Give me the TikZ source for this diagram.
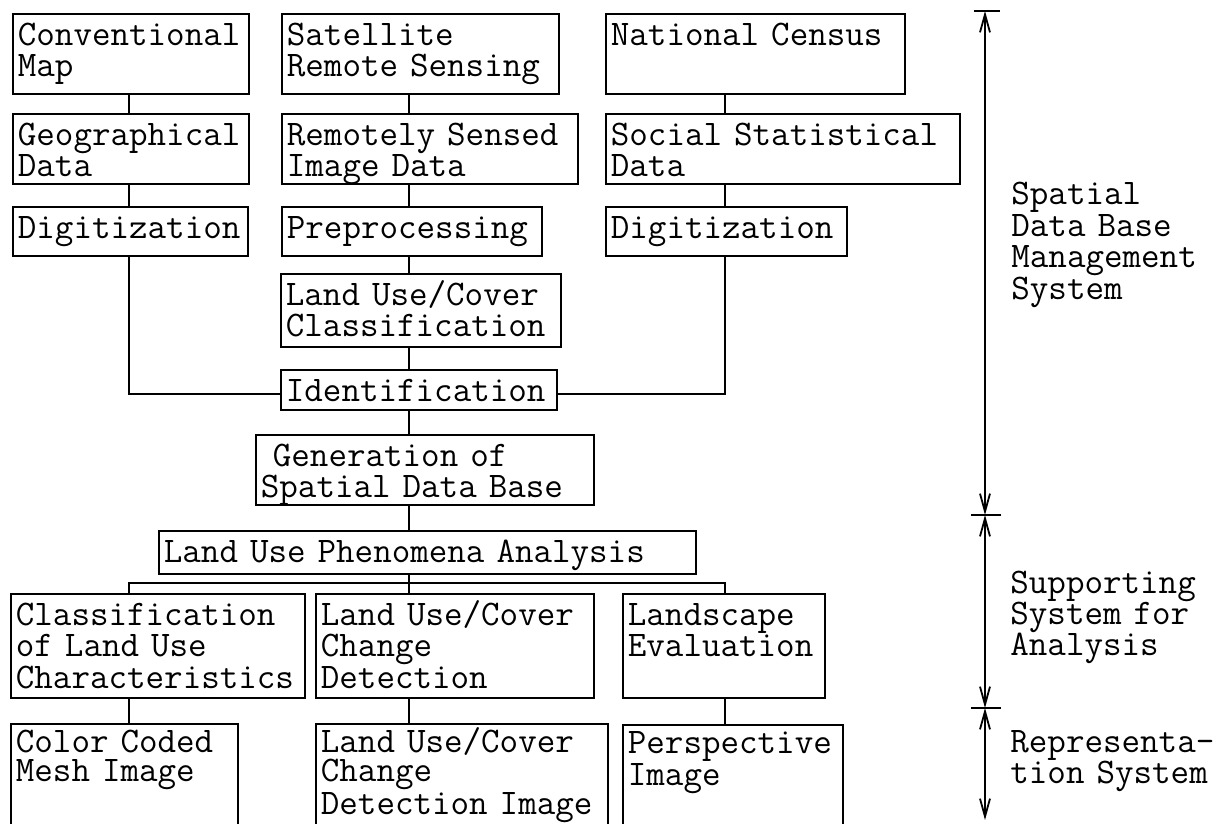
\documentclass[tikz,border=0pt]{standalone}
\usepackage{fontspec}
\usetikzlibrary{arrows.meta}
\newcommand\diafont{\ttfamily\addfontfeatures{FakeBold=0.6}\fontsize{18}{15.75}\selectfont\hyphenpenalty=10000\exhyphenpenalty=10000}
\newcommand\diafonttight{\ttfamily\addfontfeatures{FakeBold=0.6}\fontsize{18}{14.5}\selectfont\hyphenpenalty=10000\exhyphenpenalty=10000}
\tikzset{
  box/.style={draw, line width=0.9pt, inner xsep=2.5pt, inner ysep=0pt,
    align=left, text height=15.75pt, font=\diafont},
  tightbox/.style={text height=14.5pt, font=\diafonttight},
  conn/.style={line width=0.9pt},
  dimline/.style={line width=0.9pt, {Straight Barb[length=9pt,width=5pt]}-{Straight Barb[length=9pt,width=5pt]}},
  tickline/.style={line width=0.9pt},
  sidelabel/.style={inner sep=0pt, align=left, text width=120pt, anchor=base west,
    font=\diafont}
}
% \boxnode[extra style]{name}{left}{top}{right}{bottom}{text}, all in reference pixels
\newcommand\boxnode[7][]{%
  \pgfmathsetmacro\bxw{(#5-#3)*0.5-5}%
  \pgfmathsetmacro\bxd{(#6-#4)*0.5-15.75}%
  \node[box, #1, text width=\bxw pt, text depth=\bxd pt, anchor=north west] (#2) at (#3,#4) {#7};%
}
\begin{document}
\begin{tikzpicture}[x=0.5pt,y=-0.5pt]
\useasboundingbox (0,0) rectangle (1223,824);
\fill[white] (0,0) rectangle (1223,824);
\clip (0,0) rectangle (1223,824);

% connector columns
\coordinate (cL) at (129,0);
\coordinate (cM) at (409,0);
\coordinate (cR) at (725,0);
\coordinate (barY) at (0,583);

% row 1
\boxnode{cmap}{12}{13}{248}{93}{Conventional\\Map}
\boxnode{sat}{281}{13}{558}{93}{Satellite\\Remote Sensing}
\boxnode{census}{605}{13}{904}{93}{National Census}
% row 2
\boxnode{geo}{12}{113}{248}{183}{Geographical\\Data}
\boxnode{rsid}{281}{113}{577}{183}{Remotely Sensed\\Image Data}
\boxnode{social}{605}{113}{959}{183}{Social Statistical\\Data}
% row 3
\boxnode{dig1}{12}{206}{247}{255}{Digitization}
\boxnode{prep}{281}{206}{541}{255}{Preprocessing}
\boxnode{dig2}{605}{206}{846}{255}{Digitization}
% middle chain
\boxnode{luc}{280}{273}{560}{346}{Land Use/Cover\\Classification}
\boxnode{ident}{280}{369}{556}{409}{Identification}
\boxnode{gen}{255}{434}{593}{504}{~Generation of\\Spatial Data Base}
\boxnode{lupa}{158}{530}{695}{573}{Land Use Phenomena Analysis}
% row 4
\boxnode{cls}{10}{593}{304}{697}{Classification\\of Land Use\\Characteristics}
\boxnode{lucd}{315}{593}{593}{697}{Land Use/Cover\\Change\\Detection}
\boxnode{land}{622}{593}{824}{697}{Landscape\\Evaluation}
% row 5 (open at the bottom)
\boxnode[tightbox]{ccm}{10}{723}{237}{870}{Color Coded\\Mesh Image}
\boxnode[tightbox]{lucdi}{315}{723}{607}{870}{Land Use/Cover\\Change\\Detection Image}
\boxnode[tightbox]{persp}{622}{724}{842}{870}{Perspective\\Image}

% connectors
\draw[conn] (cmap.south -| cL) -- (geo.north -| cL);
\draw[conn] (geo.south -| cL) -- (dig1.north -| cL);
\draw[conn] (sat.south -| cM) -- (rsid.north -| cM);
\draw[conn] (rsid.south -| cM) -- (prep.north -| cM);
\draw[conn] (census.south -| cR) -- (social.north -| cR);
\draw[conn] (social.south -| cR) -- (dig2.north -| cR);
\draw[conn] (prep.south -| cM) -- (luc.north -| cM);
\draw[conn] (luc.south -| cM) -- (ident.north -| cM);
\draw[conn] (dig1.south -| cL) |- ([yshift=-2pt]ident.west);
\draw[conn] (dig2.south -| cR) |- ([yshift=-2pt]ident.east);
\draw[conn] (ident.south -| cM) -- (gen.north -| cM);
\draw[conn] (gen.south -| cM) -- (lupa.north -| cM);
\draw[conn] (lupa.south -| cM) -- (lucd.north -| cM);
\draw[conn] (cls.north -| cL) -- (cL |- barY) -- (cR |- barY) -- (land.north -| cR);
\draw[conn] (cls.south -| cL) -- (ccm.north -| cL);
\draw[conn] (lucd.south -| cM) -- (lucdi.north -| cM);
\draw[conn] (land.south -| cR) -- (persp.north -| cR);

% right-hand scale
\coordinate (t0) at (985,11);
\coordinate (t1) at (985,515);
\coordinate (t2) at (985,708);
\coordinate (t3) at (985,820);
\coordinate (k0a) at (974,11);  \coordinate (k0b) at (1000,11);
\coordinate (k1a) at (971,515); \coordinate (k1b) at (1001,515);
\coordinate (k2a) at (971,708); \coordinate (k2b) at (1001,708);
\draw[tickline] (k0a) -- (k0b);
\draw[tickline] (k1a) -- (k1b);
\draw[tickline] (k2a) -- (k2b);
\draw[dimline] (t0) -- (t1);
\draw[dimline] (t1) -- (t2);
\draw[dimline] (t2) -- (t3);

\node[sidelabel] (lab1) at (1011,205) {Spatial\\Data Base\\Management\\System};
\node[sidelabel] (lab2) at (1010,593) {Supporting\\System for\\Analysis};
\node[sidelabel] (lab3) at (1010,752) {Representa-\\tion System};
\end{tikzpicture}
\end{document}
